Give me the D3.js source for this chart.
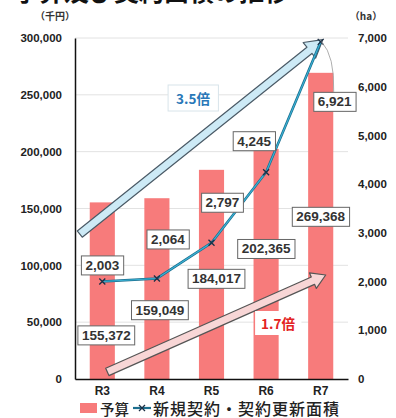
<!DOCTYPE html>
<html>
<head>
<meta charset="utf-8">
<script src="https://cdn.jsdelivr.net/npm/d3@7"></script>
<style>
  html, body { margin: 0; padding: 0; background: #fff; }
  svg { display: block; font-family: "Liberation Sans", Arial, "Noto Sans CJK JP", sans-serif; }
</style>
</head>
<body>
<svg id="chart" width="396" height="418"></svg>
<script>
// Fiscal years (令和)
const years = ["R3", "R4", "R5", "R6", "R7"];
// Budget, thousand yen
const budget = [155372, 159049, 184017, 202365, 269368];
// New + renewed contract area, ha
const area = [2003, 2064, 2797, 4245, 6921];
// Axis ticks
const leftTicks = [0, 50000, 100000, 150000, 200000, 250000, 300000];
const rightTicks = [0, 1000, 2000, 3000, 4000, 5000, 6000, 7000];
// Growth annotations
const growthLabels = ["3.5倍", "1.7倍"];

const svg = d3.select("#chart");
const m = { left: 75, right: 348, top: 38, bottom: 379 };
const jp = '"Noto Sans CJK JP", "Liberation Sans", sans-serif';

const x = d3.scaleBand().domain(years).range([m.left, m.right]).paddingInner(0.54).paddingOuter(0.27);
const yL = d3.scaleLinear().domain([0, 300000]).range([m.bottom, m.top]);
const yR = d3.scaleLinear().domain([0, 7000]).range([m.bottom, m.top]);
const fmt = d3.format(",");
const cx = d => x(d) + x.bandwidth() / 2;

// Title (runs off the top edge)
svg.append("text").attr("x", 14).attr("y", 1)
  .attr("font-family", jp).attr("font-weight", 700).attr("font-size", 25).attr("fill", "#111")
  .text("予算及び契約面積の推移");

// Gridlines
svg.append("g").selectAll("line").data(leftTicks.slice(1)).join("line")
  .attr("x1", m.left).attr("x2", m.right)
  .attr("y1", d => yL(d)).attr("y2", d => yL(d))
  .attr("stroke", "#e2e2e2").attr("stroke-width", 1);

// Left axis
const gl = svg.append("g").attr("transform", `translate(${m.left},0)`)
  .call(d3.axisLeft(yL).tickValues(leftTicks).tickFormat(fmt).tickSize(0).tickPadding(13));
gl.select(".domain").attr("stroke", "#111").attr("stroke-width", 1.5);
gl.selectAll("text").attr("font-size", 11.5).attr("font-weight", 700).attr("fill", "#222");

// Right axis
const gr = svg.append("g").attr("transform", `translate(${m.right},0)`)
  .call(d3.axisRight(yR).tickValues(rightTicks).tickFormat(fmt).tickSize(0).tickPadding(10));
gr.select(".domain").remove();
gr.selectAll("text").attr("font-size", 11.5).attr("font-weight", 700).attr("fill", "#222");

// Unit labels
svg.append("text").attr("x", 55).attr("y", 20).attr("text-anchor", "middle")
  .attr("font-family", jp).attr("font-size", 10).attr("font-weight", 700).attr("fill", "#333").text("（千円）");
svg.append("text").attr("x", 366).attr("y", 20).attr("text-anchor", "middle")
  .attr("font-family", jp).attr("font-size", 10).attr("font-weight", 700).attr("fill", "#333").text("（ha）");

// Bars
svg.append("g").selectAll("rect").data(budget).join("rect")
  .attr("x", (d, i) => x(years[i])).attr("width", x.bandwidth())
  .attr("y", d => yL(d)).attr("height", d => yL(0) - yL(d))
  .attr("fill", "#f77b7b");

// Bottom axis
const gb = svg.append("g").attr("transform", `translate(0,${m.bottom})`)
  .call(d3.axisBottom(x).tickSize(0).tickPadding(7));
gb.select(".domain").attr("stroke", "#111").attr("stroke-width", 1.5);
gb.selectAll("text").attr("font-size", 12).attr("font-weight", 700).attr("fill", "#222");

// Block arrow helper
function blockArrow(x1, y1, x2, y2, w, hw, hl) {
  const dx = x2 - x1, dy = y2 - y1, L = Math.hypot(dx, dy);
  const ux = dx / L, uy = dy / L, nx = -uy, ny = ux;
  const bx = x2 - ux * hl, by = y2 - uy * hl;
  const p = [
    [x1 + nx * w / 2, y1 + ny * w / 2],
    [bx + nx * w / 2, by + ny * w / 2],
    [bx + nx * hw / 2, by + ny * hw / 2],
    [x2, y2],
    [bx - nx * hw / 2, by - ny * hw / 2],
    [bx - nx * w / 2, by - ny * w / 2],
    [x1 - nx * w / 2, y1 - ny * w / 2]
  ];
  return "M" + p.map(q => q.join(",")).join("L") + "Z";
}

// Growth arrows
svg.append("path")
  .attr("d", blockArrow(x("R3") - 10, yL(127500), cx("R7") + 2, yL(298500), 8, 20, 17))
  .attr("fill", "#cdeaf6").attr("stroke", "#4a5a66").attr("stroke-width", 1.2).attr("stroke-linejoin", "round");
svg.append("path")
  .attr("d", blockArrow(cx("R3") + 5, yL(6200), cx("R7") + 5, yL(91500), 8, 17, 14))
  .attr("fill", "#f8d6d6").attr("stroke", "#555").attr("stroke-width", 1.2).attr("stroke-linejoin", "round");

// Area line
const line = d3.line().x((d, i) => cx(years[i])).y(d => yR(d)).curve(d3.curveLinear);
svg.append("path").datum(area).attr("d", line)
  .attr("fill", "none").attr("stroke", "#1c6f8f").attr("stroke-width", 2.6);
svg.append("path").datum(area).attr("d", line)
  .attr("fill", "none").attr("stroke", "#3bb3d6").attr("stroke-width", 1.1);
svg.append("g").selectAll("path").data(area).join("path")
  .attr("d", (d, i) => {
    const px = cx(years[i]), py = yR(d);
    return `M${px - 3},${py - 3}L${px + 3},${py + 3}M${px - 3},${py + 3}L${px + 3},${py - 3}`;
  })
  .attr("stroke", "#1d2f45").attr("stroke-width", 1.3);

// Leader line for the last area label
const lx = cx("R7"), ly = yR(area[4]);
svg.append("path")
  .attr("d", `M${lx + 1},${ly}Q${lx + 14},${ly + 14} ${lx + 13},${ly + 50}`)
  .attr("fill", "none").attr("stroke", "#999").attr("stroke-width", 0.8);

// Boxed value labels
function boxLabel(text, px, py, opts = {}) {
  const g = svg.append("g");
  const t = g.append("text").attr("x", px).attr("y", py).attr("text-anchor", "middle")
    .attr("dominant-baseline", "central")
    .attr("font-family", opts.font || '"Liberation Sans", Arial, sans-serif')
    .attr("font-size", opts.size || 13.5).attr("font-weight", 700)
    .attr("fill", opts.color || "#333").text(text);
  const bb = t.node().getBBox();
  const padX = opts.padX ?? 4, padY = opts.padY ?? 2;
  g.insert("rect", "text")
    .attr("x", bb.x - padX).attr("y", bb.y - padY)
    .attr("width", bb.width + 2 * padX).attr("height", bb.height + 2 * padY)
    .attr("fill", "#fff").attr("stroke", opts.stroke || "#666").attr("stroke-width", opts.sw ?? 1);
}

// Budget labels: [x offset from bar centre, y offset from bar top]
const budgetLabelOff = [[4, 133], [3, 112], [5, 109], [0, 100], [0, 144]];
budget.forEach((v, i) => {
  const [dx, dy] = budgetLabelOff[i];
  boxLabel(fmt(v), cx(years[i]) + dx, yL(v) + dy);
});

// Area labels: [x offset from point, y offset from point]
const areaLabelOff = [[0, -16], [11, -39], [11, -40], [-12, -31], [14, 60]];
area.forEach((v, i) => {
  const [dx, dy] = areaLabelOff[i];
  boxLabel(fmt(v), cx(years[i]) + dx, yR(v) + dy);
});

// Growth labels
boxLabel(growthLabels[0], 193, 98, { font: jp, color: "#2a78b8", size: 13.5, stroke: "#d8e4ea", padX: 8, padY: 3 });
boxLabel(growthLabels[1], 278, 323, { font: jp, color: "#e32222", size: 13.5, stroke: "#fff", padX: 6, padY: 2, sw: 0 });

// Legend
const lg = svg.append("g").attr("transform", "translate(0,408)");
lg.append("rect").attr("x", 80).attr("y", -5).attr("width", 17).attr("height", 10).attr("fill", "#f77b7b");
lg.append("text").attr("x", 100).attr("y", 0).attr("dominant-baseline", "central")
  .attr("font-family", jp).attr("font-size", 14.5).attr("font-weight", 500).attr("fill", "#222").text("予算");
lg.append("line").attr("x1", 133).attr("x2", 151).attr("y1", 0).attr("y2", 0)
  .attr("stroke", "#1c6f8f").attr("stroke-width", 2.2);
lg.append("path").attr("d", "M139,-3L145,3M139,3L145,-3").attr("stroke", "#1d2f45").attr("stroke-width", 1.3);
lg.append("text").attr("x", 153).attr("y", 0).attr("dominant-baseline", "central")
  .attr("font-family", jp).attr("font-size", 16).attr("letter-spacing", 1).attr("font-weight", 500)
  .attr("fill", "#222").text("新規契約・契約更新面積");
</script>
</body>
</html>
